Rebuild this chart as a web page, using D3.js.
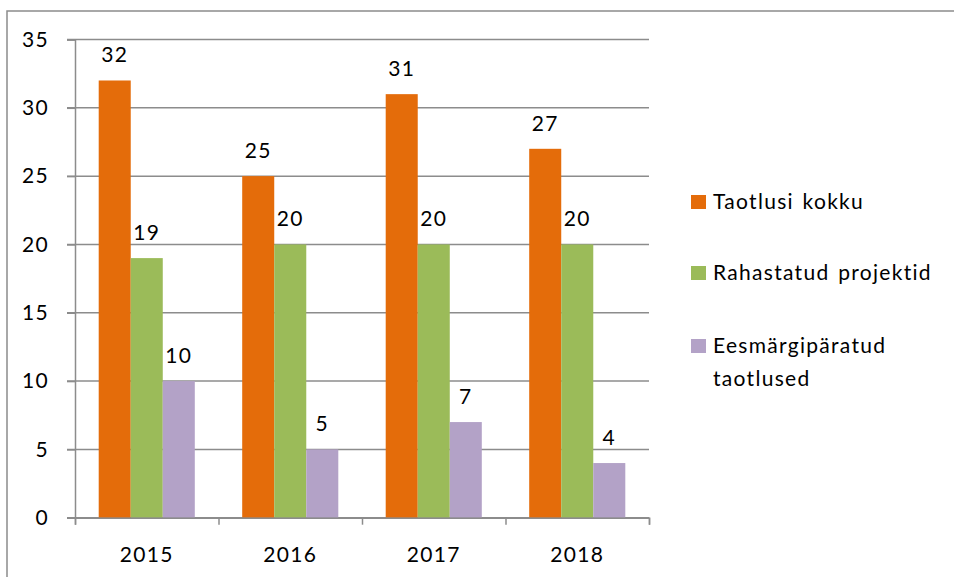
<!DOCTYPE html>
<html>
<head>
<meta charset="utf-8">
<script src="https://cdn.jsdelivr.net/npm/d3@7"></script>
<style>
  body { margin: 0; background: #fff; }
  text { font-family: Lato, sans-serif; fill: #000; }
</style>
</head>
<body>
<div id="chart"></div>
<script>
// chart data
const years = ["2015", "2016", "2017", "2018"];
const seriesNames = ["Taotlusi kokku", "Rahastatud projektid", "Eesmärgipäratud taotlused"];
const taotlusiKokku = [32, 25, 31, 27];
const rahastatud = [19, 20, 20, 20];
const eesmargiparatud = [10, 5, 7, 4];
const yTicks = [0, 5, 10, 15, 20, 25, 30, 35];

const colors = ["#E46C0A", "#9BBB59", "#B3A2C7"];
const values = [taotlusiKokku, rahastatud, eesmargiparatud];

const W = 954, H = 577;
const plot = { left: 75, right: 649, top: 39.5, bottom: 517.7 };
const FONT = "21px";
const SPACING = "1.3px";

const svg = d3
  .select("#chart")
  .append("svg")
  .attr("width", W)
  .attr("height", H);

// outer frame (only top and left visible in the picture)
svg
  .append("rect")
  .attr("x", 7)
  .attr("y", 11)
  .attr("width", W + 20)
  .attr("height", H + 20)
  .attr("fill", "none")
  .attr("stroke", "#8c8c8c")
  .attr("stroke-width", 1.5);

const x0 = d3.scaleBand().domain(years).range([plot.left, plot.right]).paddingInner(0).paddingOuter(0);
const x1 = d3
  .scaleBand()
  .domain(d3.range(seriesNames.length))
  .range([0, x0.bandwidth()])
  .paddingOuter(0.74)
  .paddingInner(0);

const y = d3.scaleLinear().domain([0, 35]).range([plot.bottom, plot.top]);

// grid lines
svg
  .append("g")
  .selectAll("line")
  .data(yTicks)
  .join("line")
  .attr("x1", plot.left - 8)
  .attr("x2", plot.right)
  .attr("y1", (d) => y(d))
  .attr("y2", (d) => y(d))
  .attr("stroke", "#8c8c8c")
  .attr("stroke-width", 1.5);

// y axis
const yAxis = svg
  .append("g")
  .attr("transform", `translate(${plot.left},0)`)
  .call(d3.axisLeft(y).tickValues(yTicks).tickSize(8).tickPadding(18));
yAxis.select(".domain").attr("stroke", "#8c8c8c").attr("stroke-width", 1.5);
yAxis.selectAll(".tick line").attr("stroke", "#8c8c8c").attr("stroke-width", 1.5);
yAxis
  .selectAll("text")
  .style("font-family", "Lato")
  .style("font-size", FONT)
  .style("letter-spacing", SPACING)
  .attr("fill", "#000");

// bars
const groups = svg
  .append("g")
  .selectAll("g")
  .data(seriesNames)
  .join("g")
  .attr("fill", (d, i) => colors[i]);

groups
  .selectAll("rect")
  .data((d, i) => values[i].map((v, j) => ({ s: i, year: years[j], v: v })))
  .join("rect")
  .attr("x", (d) => x0(d.year) + x1(d.s))
  .attr("y", (d) => y(d.v))
  .attr("width", x1.bandwidth())
  .attr("height", (d) => y(0) - y(d.v));

// value labels
groups
  .selectAll("text")
  .data((d, i) => values[i].map((v, j) => ({ s: i, year: years[j], v: v })))
  .join("text")
  .attr("x", (d) => x0(d.year) + x1(d.s) + x1.bandwidth() / 2)
  .attr("y", (d) => y(d.v) - 18)
  .attr("text-anchor", "middle")
  .attr("fill", "#000")
  .style("font-size", FONT)
  .style("letter-spacing", SPACING)
  .text((d) => d.v);

// x axis
const xAxis = svg
  .append("g")
  .attr("transform", `translate(0,${plot.bottom})`)
  .call(
    d3
      .axisBottom(d3.scaleLinear().domain([0, years.length]).range([plot.left, plot.right]))
      .ticks(years.length)
      .tickSize(7)
      .tickFormat("")
  );
xAxis.select(".domain").attr("stroke", "#8c8c8c").attr("stroke-width", 1.5);
xAxis.selectAll(".tick line").attr("stroke", "#8c8c8c").attr("stroke-width", 1.5);

svg
  .append("g")
  .selectAll("text")
  .data(years)
  .join("text")
  .attr("x", (d) => x0(d) + x0.bandwidth() / 2)
  .attr("y", 562)
  .attr("text-anchor", "middle")
  .style("font-size", FONT)
  .style("letter-spacing", SPACING)
  .text((d) => d);

// legend
const legendRows = [
  { lines: ["Taotlusi kokku"], y: 209 },
  { lines: ["Rahastatud projektid"], y: 280 },
  { lines: ["Eesmärgipäratud", "taotlused"], y: 353 }
];
const legend = svg
  .append("g")
  .selectAll("g")
  .data(seriesNames)
  .join("g")
  .attr("transform", (d, i) => `translate(691,${legendRows[i].y})`);

legend
  .append("rect")
  .attr("x", 0)
  .attr("y", -14)
  .attr("width", 15)
  .attr("height", 14)
  .attr("fill", (d, i) => colors[i]);

legend
  .append("text")
  .attr("x", 22)
  .attr("y", 0)
  .style("font-size", FONT)
  .style("letter-spacing", SPACING)
  .style("word-spacing", "2px")
  .selectAll("tspan")
  .data((d, i) => legendRows[i].lines)
  .join("tspan")
  .attr("x", 22)
  .attr("dy", (d, i) => (i === 0 ? 0 : 33))
  .text((d) => d);
</script>
</body>
</html>
